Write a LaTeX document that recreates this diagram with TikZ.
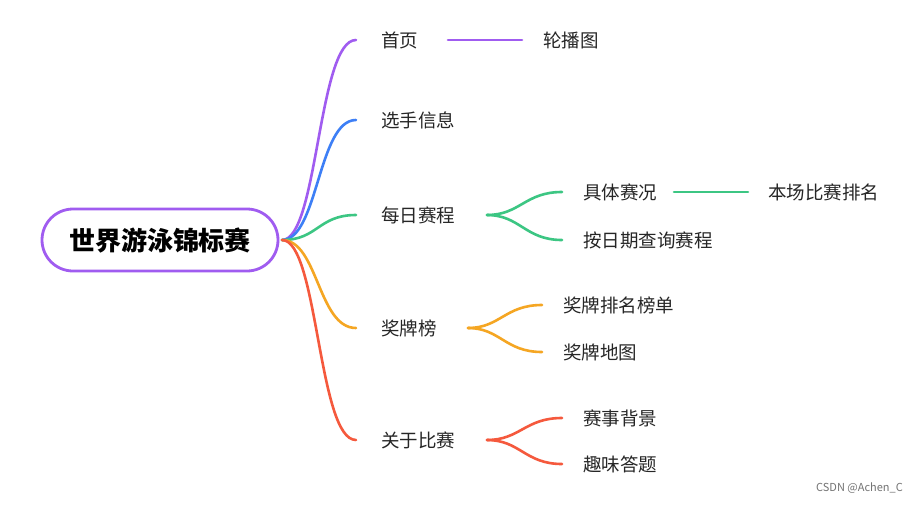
\documentclass[tikz,border=0pt]{standalone}
\usepackage{fontspec}
\setmainfont{Noto Sans CJK SC}
\begin{document}
\begin{tikzpicture}[x=1pt,y=-1pt,
  lbl/.style={anchor=west,inner sep=0pt,font=\fontsize{18.5}{21}\selectfont,text=black!85},
  br/.style={line width=2.6pt,line cap=round}]
\definecolor{cP}{HTML}{A05CF0}
\definecolor{cB}{HTML}{3D7FF6}
\definecolor{cG}{HTML}{3CC683}
\definecolor{cO}{HTML}{F5A623}
\definecolor{cR}{HTML}{F5593D}
\useasboundingbox (0,0) rectangle (914,504);
\fill[white] (0,0) rectangle (914,504);
\node[draw=cP,line width=2.8pt,rounded corners=31pt,minimum width=236pt,minimum height=62pt,font=\fontsize{26}{30}\selectfont\bfseries] (root) at (160,240) {世界游泳锦标赛};
\coordinate (r) at (282,240);
% level 1
\node[lbl] (a) at (381,40) {首页};
\node[lbl] (b) at (381,120) {选手信息};
\node[lbl] (c) at (381,215) {每日赛程};
\node[lbl] (d) at (381,328) {奖牌榜};
\node[lbl] (e) at (381,440) {关于比赛};
\foreach \n/\col/\y in {a/cP/40,b/cB/120,c/cG/215,d/cO/328,e/cR/440}{
  \draw[br,draw=\col] (r) .. controls (318,240) and (318,\y) .. (356,\y);
}
% 首页
\node[lbl] (a1) at (543,40) {轮播图};
\draw[br,draw=cP] (448,40) -- (522,40);
% 每日赛程
\node[lbl] (c1) at (583,192) {具体赛况};
\node[lbl] (c2) at (583,240) {按日期查询赛程};
\node[lbl] (c3) at (768,192) {本场比赛排名};
\coordinate (cf) at (487,215);
\draw[br,draw=cG] (cf) .. controls (520,215) and (525,192) .. (562,192);
\draw[br,draw=cG] (cf) .. controls (520,215) and (525,240) .. (562,240);
\draw[br,draw=cG] (674,192) -- (748,192);
% 奖牌榜
\node[lbl] (d1) at (563,305) {奖牌排名榜单};
\node[lbl] (d2) at (563,352) {奖牌地图};
\coordinate (df) at (468,328);
\draw[br,draw=cO] (df) .. controls (500,328) and (505,305) .. (542,305);
\draw[br,draw=cO] (df) .. controls (500,328) and (505,352) .. (542,352);
% 关于比赛
\node[lbl] (e1) at (583,418) {赛事背景};
\node[lbl] (e2) at (583,464) {趣味答题};
\coordinate (ef) at (487,440);
\draw[br,draw=cR] (ef) .. controls (520,440) and (525,418) .. (562,418);
\draw[br,draw=cR] (ef) .. controls (520,440) and (525,464) .. (562,464);
\node[anchor=east,inner sep=0pt,font=\fontsize{11}{13}\selectfont,text=black!55] (wm) at (903,488) {CSDN @Achen\_C};
\end{tikzpicture}
\end{document}
